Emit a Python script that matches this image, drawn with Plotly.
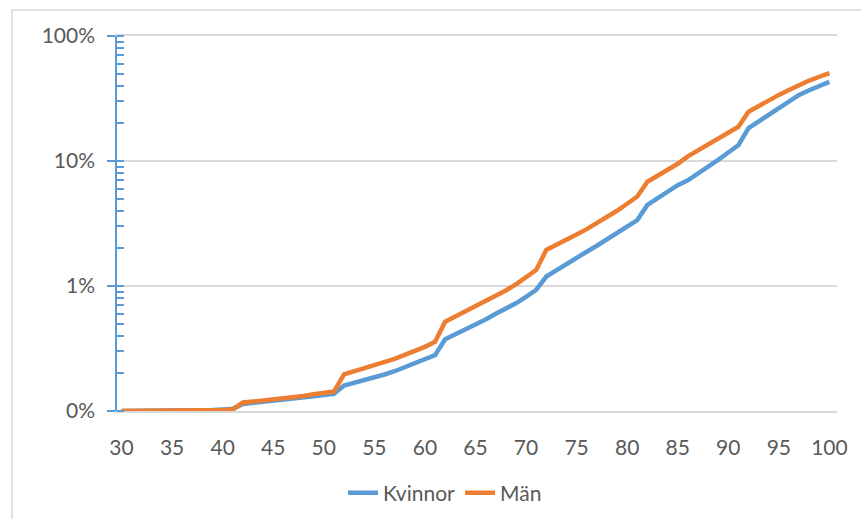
import plotly.graph_objects as go

# Age (years)
ages = list(range(30, 101))

# Cumulative share, women (fraction)
kvinnor = [
    0.00100, 0.00100, 0.00100, 0.00100, 0.00100, 0.00101, 0.00102, 0.00102, 0.00102, 0.00102,  # 30-39
    0.00103, 0.00104, 0.00114, 0.00116, 0.00118, 0.00120, 0.00122, 0.00125, 0.00128, 0.00131,  # 40-49
    0.00134, 0.00137, 0.00160, 0.00168, 0.00176, 0.00184, 0.00196, 0.00208, 0.00223, 0.00240,  # 50-59
    0.00258, 0.00280, 0.00375, 0.00410, 0.00447, 0.00487, 0.00540, 0.00600, 0.00660, 0.00727,  # 60-69
    0.00820, 0.00930, 0.0119, 0.0134, 0.0150, 0.0168, 0.0188, 0.0210, 0.0236, 0.0265,          # 70-79
    0.0298, 0.0337, 0.0445, 0.0505, 0.0570, 0.0640, 0.0700, 0.0790, 0.0900, 0.1020,            # 80-89
    0.1170, 0.1340, 0.1830, 0.2060, 0.2350, 0.2660, 0.3000, 0.3380, 0.3680, 0.3980,            # 90-99
    0.4300,                                                                                    # 100
]

# Cumulative share, men (fraction)
man = [
    0.00100, 0.00100, 0.00100, 0.00100, 0.00100, 0.00101, 0.00101, 0.00102, 0.00102, 0.00102,  # 30-39
    0.00102, 0.00103, 0.00117, 0.00119, 0.00121, 0.00123, 0.00126, 0.00129, 0.00132, 0.00136,  # 40-49
    0.00140, 0.00143, 0.00196, 0.00207, 0.00218, 0.00230, 0.00244, 0.00261, 0.00281, 0.00302,  # 50-59
    0.00326, 0.00358, 0.00518, 0.00570, 0.00625, 0.00683, 0.00760, 0.00840, 0.00920, 0.01030,  # 60-69
    0.0117, 0.0134, 0.0194, 0.0215, 0.0236, 0.0258, 0.0285, 0.0318, 0.0356, 0.0400,            # 70-79
    0.0455, 0.0520, 0.0683, 0.0760, 0.0850, 0.0950, 0.1090, 0.1220, 0.1360, 0.1510,            # 80-89
    0.1680, 0.1880, 0.2480, 0.2760, 0.3060, 0.3380, 0.3700, 0.4080, 0.4400, 0.4720,            # 90-99
    0.5050,                                                                                    # 100
]

x_tickvals = list(range(30, 101, 5))
y_tickvals = [0.001, 0.01, 0.1, 1]
y_ticktext = ["0%", "1%", "10%", "100%"]
y_minor = [m * d for d in [0.001, 0.01, 0.1] for m in range(1, 11)]

BLUE = "#5B9BD5"
ORANGE = "#ED7D31"
GRID = "#D9D9D9"
TEXT = "#595959"
FONT = "Lato"

fig = go.Figure()
fig.add_trace(go.Scatter(x=ages, y=kvinnor, mode="lines", name="Kvinnor",
                         line=dict(color=BLUE, width=4.5)))
fig.add_trace(go.Scatter(x=ages, y=man, mode="lines", name="Män",
                         line=dict(color=ORANGE, width=4.5)))

W, H = 861, 519
L, R, T, B = 117, 24, 36, 108
pw, ph = W - L - R, H - T - B

fig.update_layout(
    width=W, height=H,
    margin=dict(l=L, r=R, t=T, b=B, autoexpand=False),
    paper_bgcolor="white", plot_bgcolor="white",
    font=dict(family=FONT, size=21, color=TEXT),
    showlegend=True,
    legend=dict(orientation="h", xref="container", yref="container",
                x=445 / W, xanchor="center", y=(H - 493) / H, yanchor="middle",
                font=dict(family=FONT, size=21, color=TEXT), itemwidth=30,
                bgcolor="rgba(0,0,0,0)"),
    xaxis=dict(range=[29.55, 100.75], tickmode="array", tickvals=x_tickvals,
               showgrid=False, zeroline=False,
               showline=True, mirror=True, linecolor=GRID, linewidth=1.5,
               ticks="outside", ticklen=17, tickcolor="rgba(0,0,0,0)",
               tickfont=dict(family=FONT, size=21, color=TEXT)),
    yaxis=dict(type="log", range=[-3, 0], tickmode="array",
               tickvals=y_tickvals, ticktext=y_ticktext,
               showgrid=True, gridcolor=GRID, gridwidth=1.5, zeroline=False,
               showline=True, linecolor=BLUE, linewidth=1.5,
               ticks="outside", ticklen=8, tickwidth=1.5, tickcolor=BLUE,
               ticklabelstandoff=8,
               minor=dict(tickmode="array", tickvals=y_minor, ticks="inside",
                          ticklen=7, tickwidth=1.5, tickcolor=BLUE, showgrid=False),
               tickfont=dict(family=FONT, size=21, color=TEXT)),
)

# Light frame around the chart area
fig.add_shape(type="rect", xref="paper", yref="paper",
              x0=(12 - L) / pw, x1=(875 - L) / pw,
              y0=(H - B - 535) / ph, y1=(H - B - 10) / ph,
              line=dict(color=GRID, width=1.5), fillcolor="rgba(0,0,0,0)",
              layer="below")

fig.write_html("out.html")
